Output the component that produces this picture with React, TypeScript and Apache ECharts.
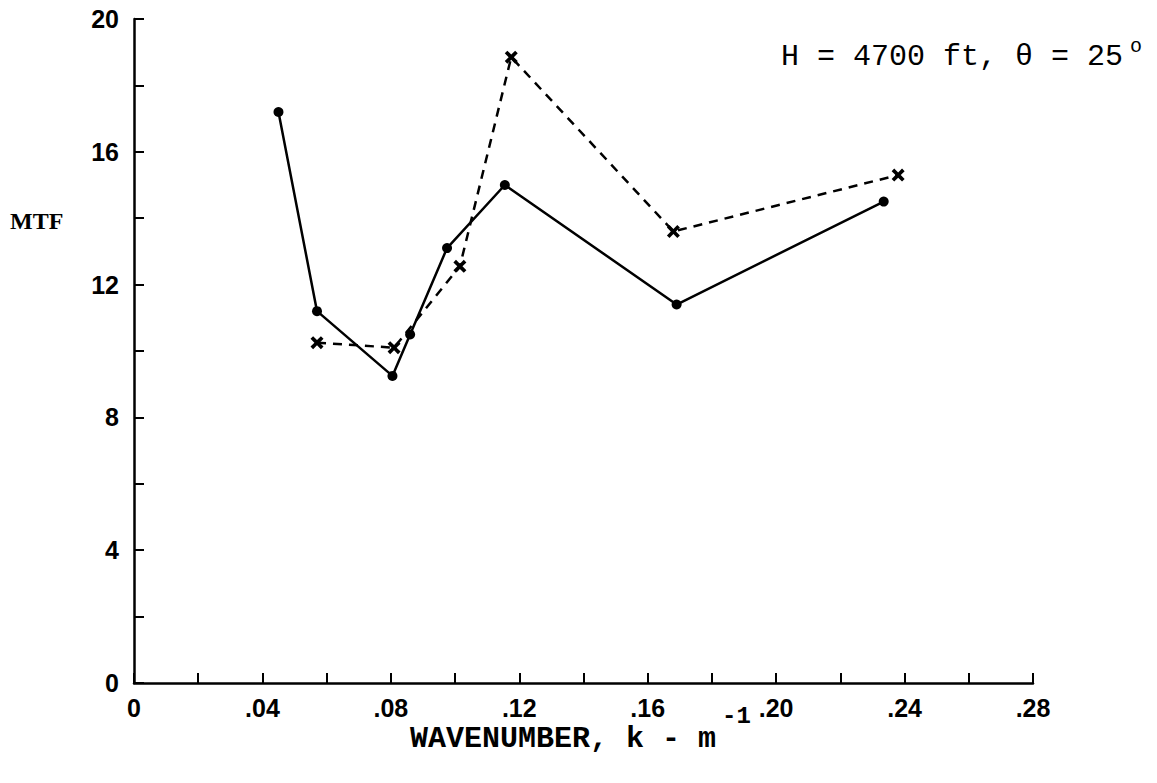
import React, { useEffect, useRef } from "react";
import * as echarts from "echarts";

const solidX = [0.045, 0.057, 0.0805, 0.086, 0.0975, 0.1155, 0.169, 0.2335];
const solidY = [17.2, 11.2, 9.25, 10.5, 13.1, 15.0, 11.4, 14.5];
const dashedX = [0.057, 0.081, 0.1015, 0.1175, 0.168, 0.238];
const dashedY = [10.25, 10.1, 12.55, 18.85, 13.6, 15.3];

const annotation = "H = 4700 ft, θ = 25";
const annotationSup = "o";
const xTitle = "WAVENUMBER, k - m";
const xTitleSup = "-1";
const yTitle = "MTF";

const X_SYMBOL = "path://M2,0L5,3L8,0L10,2L7,5L10,8L8,10L5,7L2,10L0,8L3,5L0,2Z";

export default function App() {
  const ref = useRef<HTMLDivElement>(null);
  useEffect(() => {
    if (!ref.current) return;
    const chart = echarts.init(ref.current, undefined, { renderer: "svg" });
    const axisCommon = {
      axisLine: { show: true, onZero: false, lineStyle: { color: "#000", width: 2.5 } },
      axisTick: { show: true, inside: true, length: 10, lineStyle: { color: "#000", width: 2 } },
      minorTick: { show: true, splitNumber: 2, length: 10, lineStyle: { color: "#000", width: 2 } },
      splitLine: { show: false },
      minorSplitLine: { show: false },
    };
    chart.setOption({
      animation: false,
      backgroundColor: "#fff",
      grid: { left: 134, right: 124, top: 19, bottom: 100 },
      xAxis: {
        type: "value",
        min: 0,
        max: 0.28,
        interval: 0.04,
        ...axisCommon,
        axisLabel: {
          margin: 12,
          color: "#000",
          fontSize: 25,
          fontWeight: "bold",
          fontFamily: "Liberation Sans",
          formatter: (v: number) => (v === 0 ? "0" : v.toFixed(2).replace(/^0/, "")),
        },
      },
      yAxis: {
        type: "value",
        min: 0,
        max: 20,
        interval: 4,
        ...axisCommon,
        axisLabel: {
          margin: 15,
          color: "#000",
          fontSize: 25,
          fontWeight: "bold",
          fontFamily: "Liberation Sans",
        },
      },
      series: [
        {
          type: "line",
          data: dashedX.map((x, i) => [x, dashedY[i]]),
          symbol: X_SYMBOL,
          symbolSize: 13,
          itemStyle: { color: "#000" },
          lineStyle: { color: "#000", width: 2.5, type: [9, 7] },
          z: 2,
        },
        {
          type: "line",
          data: solidX.map((x, i) => [x, solidY[i]]),
          symbol: "circle",
          symbolSize: 10,
          itemStyle: { color: "#000" },
          lineStyle: { color: "#000", width: 2.5 },
          z: 3,
        },
      ],
      graphic: [
        {
          type: "text",
          left: 781,
          top: 42,
          style: { text: annotation, font: "30px 'Liberation Mono'", fill: "#000" },
        },
        {
          type: "text",
          left: 1130,
          top: 36,
          style: { text: annotationSup, font: "20px 'Liberation Mono'", fill: "#000" },
        },
        {
          type: "text",
          left: 410,
          top: 724,
          style: { text: xTitle, font: "bold 30px 'Liberation Mono'", fill: "#000" },
        },
        {
          type: "text",
          left: 722,
          top: 704,
          style: { text: xTitleSup, font: "bold 24px 'Liberation Mono'", fill: "#000" },
        },
        {
          type: "text",
          left: 10,
          top: 209,
          style: { text: yTitle, font: "bold 24px 'Liberation Serif'", fill: "#000" },
        },
      ],
    });
    return () => chart.dispose();
  }, []);
  return (
    <div
      ref={ref}
      style={{ position: "fixed", left: 0, top: 0, width: 1157, height: 783, background: "#fff" }}
    />
  );
}
